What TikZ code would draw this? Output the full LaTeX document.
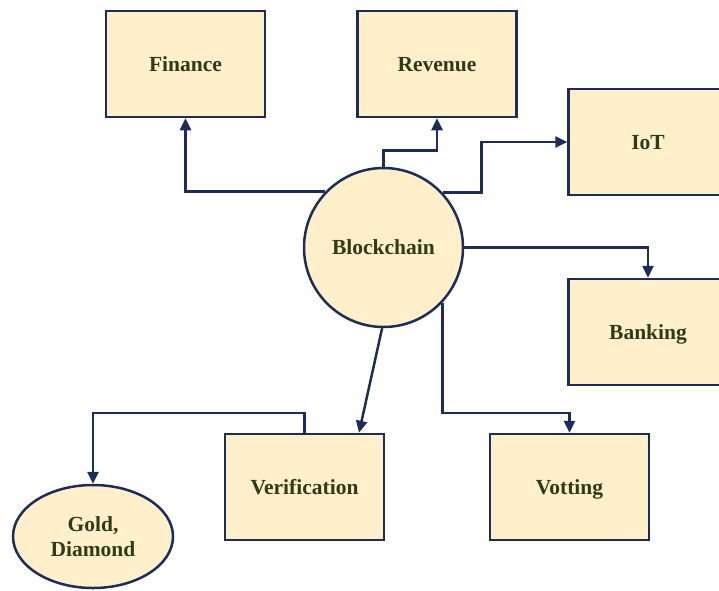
\documentclass[tikz,border=0pt]{standalone}
\usepackage{fontspec}
\setmainfont{Liberation Serif}
\usetikzlibrary{arrows.meta,shapes.geometric}
\definecolor{fillc}{HTML}{FFEFCB}
\definecolor{linec}{HTML}{1C2D5A}
\definecolor{textc}{HTML}{2F3B16}
\tikzset{
  box/.style={draw=linec, fill=fillc, line width=2.5pt, rectangle, inner sep=0pt,
    minimum width=159pt, minimum height=106pt, text=textc,
    text height=14pt, text depth=0pt,
    font=\fontsize{21.5}{25}\selectfont\bfseries},
  hub/.style={draw=linec, fill=fillc, line width=2.5pt, circle, inner sep=0pt,
    minimum size=159pt, text=textc, text height=14pt, text depth=0pt,
    font=\fontsize{21.5}{25}\selectfont\bfseries},
  oval/.style={draw=linec, fill=fillc, line width=2.5pt, ellipse, inner sep=0pt,
    minimum width=160pt, minimum height=103pt, text=textc, align=center,
    font=\fontsize{21.5}{25}\selectfont\bfseries},
  conn/.style={draw=linec, line width=2.5pt, -{Triangle[length=12pt,width=11pt]}}
}
\begin{document}
\begin{tikzpicture}[x=1pt,y=-1pt]
\useasboundingbox (0,0) rectangle (719,590);
\node[box] (fin) at (185.5,64) {Finance};
\node[box] (rev) at (437,64) {Revenue};
\node[box] (iot) at (648,142) {IoT};
\node[box] (bank) at (648,332) {Banking};
\node[box] (ver) at (304.5,487) {Verification};
\node[box] (vot) at (569.5,487) {Votting};
\node[hub] (bc) at (383.5,247.5) {Blockchain};
\node[oval] (gold) at (93,536.5) {Gold,\\Diamond};

\draw[conn] (bc.136.4) -| (fin.south);
\draw[conn] (bc.north) |- ([yshift=-32pt]rev.south) -- (rev.south);
\draw[conn] (bc.43.6) -| ([xshift=-86pt]iot.west) -- (iot.west);
\draw[conn] (bc.east) -| (bank.north);
\draw[conn] (bc.-43.7) |- ([yshift=20pt]vot.north) -- (vot.north);
\draw[conn] (bc.-91) -- ([xshift=54.5pt]ver.north);
\draw[conn] (ver.north) |- ([yshift=71pt]gold.north) -- (gold.north);
\end{tikzpicture}
\end{document}
